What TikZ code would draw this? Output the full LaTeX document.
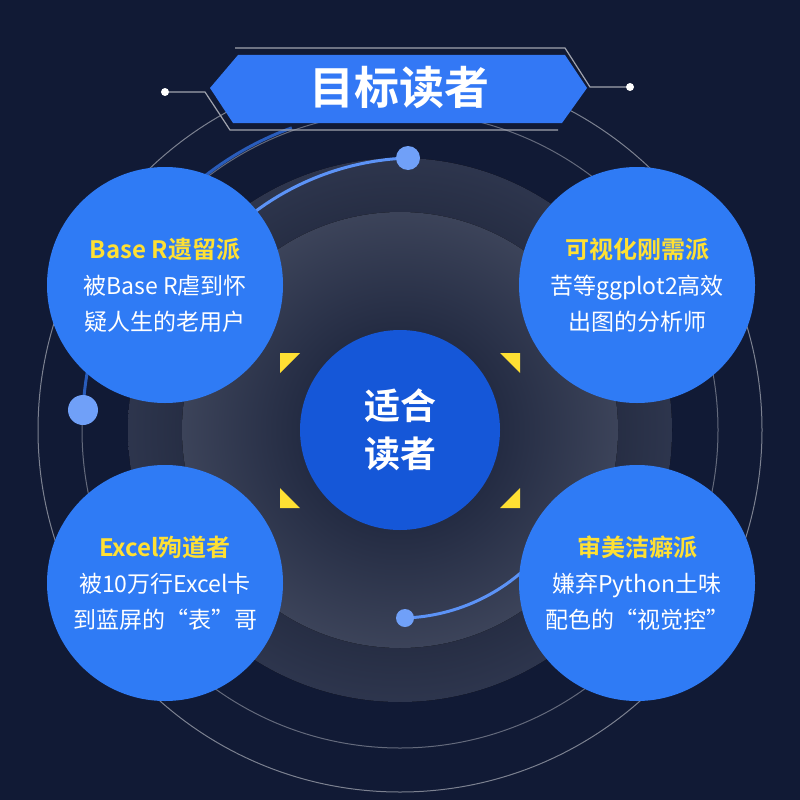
\documentclass[tikz,border=0pt]{standalone}
\usepackage{fontspec}
\setmainfont{Noto Sans CJK SC}[BoldFont={* Bold}]
\newfontfamily\cjkb{Noto Sans CJK SC Bold}
\definecolor{bg}{HTML}{111A35}
\definecolor{hdr}{HTML}{3378F5}
\definecolor{bub}{HTML}{2F7BF5}
\definecolor{core}{HTML}{1557D8}
\definecolor{ttl}{HTML}{FFE033}
\tikzset{x=1pt,y=-1pt,
 bubble/.style={circle,fill=bub,minimum size=236pt,inner sep=0pt,align=center,text=white,font=\fontsize{23}{36}\selectfont},
 tri/.style={fill=ttl},
 thin/.style={draw=white!60!bg,line width=1.2pt},
 dot/.style={circle,fill=white,minimum size=8pt,inner sep=0pt}}
\newcommand\ttlfont{\cjkb\color{ttl}\fontsize{24}{40}\selectfont}
\begin{document}
\begin{tikzpicture}
\useasboundingbox (0,0) rectangle (800,800);
\fill[bg] (0,0) rectangle (800,800);
\begin{scope}
\clip (0,0) rectangle (800,800);
\draw[white!45!bg,line width=1pt] (400,430) circle (362);
\fill[inner color=bg!60!black,outer color=white!12!bg] (400,430) circle (272);
\draw[white!35!bg,line width=1pt] (400,430) circle (318);
\draw[hdr!70!bg,line width=3pt] (83,410) arc (183:250:318);
\fill[inner color=bg!90!black,outer color=white!18!bg] (400,430) circle (218);
\draw[hdr!80!white,line width=3pt] (405,618) arc (88:40:188);
\draw[hdr!80!white,line width=3pt] (408,158) arc (-92:-130:272);
\end{scope}
\node[circle,fill=hdr!70!white,minimum size=24pt,inner sep=0pt] (d1) at (408,158) {};
\node[circle,fill=hdr!70!white,minimum size=30pt,inner sep=0pt] (d2) at (83,410) {};
\node[circle,fill=hdr!70!white,minimum size=18pt,inner sep=0pt] (d3) at (405,618) {};
\node[circle,fill=core,minimum size=200pt,inner sep=0pt,text=white,font=\cjkb\fontsize{36}{48}\selectfont,align=center] (c) at (400,430) {适合\\读者};
\fill[tri] (280,353)--(300,353)--(280,373)--cycle;
\fill[tri] (520,353)--(500,353)--(520,373)--cycle;
\fill[tri] (280,508)--(300,508)--(280,488)--cycle;
\fill[tri] (520,508)--(500,508)--(520,488)--cycle;
\node[bubble] (a) at (165,285) {{\ttlfont Base R遗留派}\\被Base R虐到怀\\疑人生的老用户};
\node[bubble] (b) at (637,285) {{\ttlfont 可视化刚需派}\\苦等ggplot2高效\\出图的分析师};
\node[bubble] (e) at (165,583) {{\ttlfont Excel殉道者}\\被10万行Excel卡\\到蓝屏的“表”哥};
\node[bubble] (f) at (637,583) {{\ttlfont 审美洁癖派}\\嫌弃Python土味\\配色的“视觉控”};
% header
\fill[hdr] (238,55)--(565,55)--(587,88)--(562,123)--(233,123)--(210,88)--cycle;
\node[text=white,font=\cjkb\fontsize{45}{50}\selectfont] (t) at (399,88) {目标读者};
\coordinate (p1) at (235,48); \coordinate (p2) at (565,48); \coordinate (p3) at (590,87);
\node[dot] (r) at (630,87) {};
\draw[thin] (p1)--(p2)--(p3)--(r);
\coordinate (q1) at (230,130); \coordinate (q2) at (558,130); \coordinate (q3) at (205,92);
\node[dot] (l) at (165,92) {};
\draw[thin] (q2)--(q1)--(q3)--(l);
\end{tikzpicture}
\end{document}
